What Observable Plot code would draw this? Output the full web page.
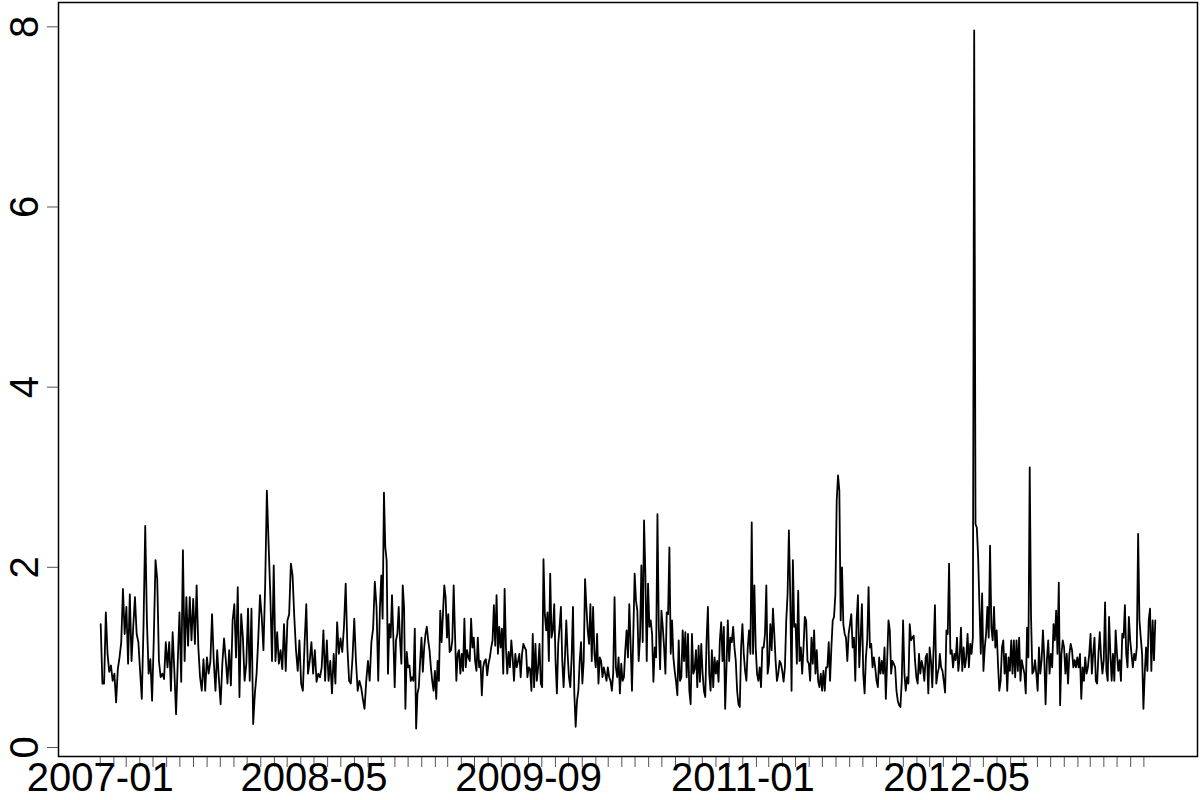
<!DOCTYPE html>
<html><head><meta charset="utf-8">
<script src="https://cdn.jsdelivr.net/npm/d3@7"></script>
<script src="https://cdn.jsdelivr.net/npm/@observablehq/plot@0.6"></script>
<style>html,body{margin:0;padding:0;background:#fff}#chart svg{display:block}</style>
</head><body><div id="chart"></div>
<script>
// Series values, in four consecutive stretches
const seg1 = [1.37,0.71,0.71,1.50,1.04,0.84,0.91,0.74,0.82,0.50,
0.87,1.00,1.17,1.76,1.26,1.56,0.93,1.70,0.96,1.34,
1.67,1.26,1.17,0.85,0.54,1.35,2.46,1.39,0.82,0.98,
0.52,1.21,2.08,1.87,0.96,0.78,0.82,0.76,1.17,0.89,
1.17,0.63,1.28,0.85,0.37,0.96,1.50,0.73,2.19,0.96,
1.67,1.13,1.67,1.19,1.65,1.15,1.80,1.11,0.78,0.63,
0.98,0.63,1.00,0.82,0.95,1.48,0.96,0.63,1.08,0.76,
0.48,0.93,1.21,0.98,0.71,1.08,0.69,1.41,1.59,1.00,
1.78,0.56,1.48,1.22,0.74,0.93,1.54,0.74,1.54,0.26,
0.60,0.82,1.22,1.69,1.45,1.08,1.80,2.85,2.26,1.70,
0.96,2.02,0.96,1.28,0.93,1.08,0.87,1.37,0.85,1.41,
1.48,2.04,1.91,1.45,1.08,0.85,1.19,0.71,0.63,1.15,
1.59,0.82,0.96,1.17,0.82,1.08,0.73,0.82,0.78,0.89,
1.30,0.74,1.19,0.74,0.96,0.60,1.04,0.71,1.39,1.04,
1.21,1.06,1.34,1.82,1.11,0.74,0.71,1.00,1.43,0.96,
0.63,0.74,0.67,0.54,0.43,0.74,0.96,0.74,1.17,1.32,
1.84,1.56,0.74,1.56];
const seg2 = [1.91,1.43,2.83,2.22,2.08,0.82,1.37,1.22,1.69,1.22,
0.67,1.19,1.26,1.56,1.19,0.93,1.80,1.56,0.43,1.06,
0.89,0.91,0.74,0.78,0.74,1.32,0.21,0.60,0.67,0.96,
1.22,0.84,1.11,1.26,1.34,1.19,1.08,0.89,0.74,0.63,
0.85,0.54,0.96,0.74,1.52,1.17,1.48,1.80,1.67,1.22,
1.48,1.06,1.08,1.19,1.80,1.26,0.74,1.04,1.08,0.82,
1.04,0.85,1.43,0.89,1.08,1.00,0.96,1.43,1.11,1.22,
0.96,0.85,1.22,0.89,0.96,0.58,0.89,0.96,0.98,0.80,
0.93,1.00,1.11,1.19,1.58,1.13,1.69,1.04,1.34,1.11,
1.32,0.82,1.76,1.11,0.82,1.06,0.89,1.19,1.00,0.74,
1.04,0.89,0.96,1.04,0.78,1.04,1.15,1.11,1.08,0.78,
0.89,0.87,0.63,1.26,0.67,1.15,0.74,0.89,1.15,0.71,
0.67,2.09,1.48,1.30,1.50,0.96,1.93,1.22,1.30,1.59,
0.96,0.60,1.15,1.34,1.56,0.96,0.67,1.00,1.41,1.04,
0.78,0.67,1.00,1.56,0.60,0.23,0.52,0.63,0.96,1.17,
0.71,0.96,1.87,1.56,1.30,1.15,1.59,0.96,1.56,1.04,
0.89,1.26,0.71,1.00,0.96,0.78,0.89,0.82,0.74,0.89,
0.78,0.74,0.63,0.82,1.67,0.89,0.78,1.00,0.60,0.93,
0.74,0.78,1.08,1.30,1.00,1.59,1.15,0.63,1.26,1.93,
1.63,1.52,0.96,1.22,2.02,1.17,2.52,1.93,0.96,1.82,
1.34,1.41,1.26,0.73,1.11,1.00,2.59,1.34];
const seg3 = [0.87,1.52,1.34,1.11,0.82,1.50,1.48,2.22,1.04,1.41,
1.00,0.85,0.73,0.58,1.19,0.74,0.78,1.30,0.96,1.28,
0.78,1.26,0.63,0.48,1.26,0.82,0.87,1.08,0.67,1.13,
0.73,1.15,0.82,0.63,0.56,1.19,1.56,0.82,0.63,1.08,
0.67,1.00,0.82,0.96,0.73,1.19,1.39,0.96,1.34,0.43,
0.89,1.41,0.96,1.22,1.17,1.34,1.11,0.96,0.63,0.48,
0.45,1.11,1.37,1.04,0.85,0.74,1.11,1.30,1.04,2.50,
1.04,1.80,1.11,0.82,0.74,0.89,0.67,1.11,1.11,1.26,
1.80,0.82,0.93,1.37,1.08,1.54,1.26,0.96,0.74,0.82,
0.96,0.93,0.85,0.73,0.89,1.41,1.70,2.41,1.70,0.63,
2.08,1.34,1.37,0.93,1.74,0.96,1.11,0.82,1.11,1.45,
1.41,0.96,0.93,0.74,1.22,0.93,1.30,0.82,1.08,0.74,
0.67,0.82,0.63,0.85,0.63,0.89,0.89,1.17,0.74,1.11,
1.41,1.45,1.70,2.74,3.02,2.85,1.41,2.00,1.37,1.26,
1.22,0.96,1.26,1.37,1.48,1.11,1.22,0.74,1.41,1.69,
0.89,1.22,1.59,0.82,0.60,1.00,1.19,1.78,1.11,1.15,
0.89,1.00,0.89,0.74,0.67,1.00,0.82,0.96,0.82,1.11,
0.54,0.96,1.41,1.30,0.82,0.96,0.93,0.89,0.63,0.52,
0.47,0.45,0.74,1.41,0.82,0.63,0.78,0.71,1.37,1.19,
1.22,1.24,0.96,0.78,0.71,1.04,0.82,0.96,0.89,0.74,
1.00,1.04,0.60,1.11,0.96,0.67,1.11,1.58,0.71,0.82,
0.89];
const seg4 = [1.04,0.89,0.85,0.74,0.61,1.30,1.26,2.04,1.04,1.08,
0.89,1.04,0.97,1.22,0.85,1.00,1.33,0.85,1.11,0.89,
1.00,1.26,0.89,1.15,1.04,1.22,7.96,2.48,2.44,2.11,
1.56,1.04,1.71,0.85,1.11,1.26,1.56,1.22,2.24,1.33,
1.19,1.56,1.11,1.30,0.93,0.63,0.74,1.11,1.19,0.82,
1.04,0.63,1.00,0.85,1.19,0.82,1.19,0.78,1.19,0.85,
1.22,0.74,0.97,0.89,0.82,0.60,1.33,1.00,3.11,1.45,
0.82,0.85,0.97,0.82,0.63,1.11,0.82,0.97,1.30,1.00,
0.48,0.97,1.19,0.82,1.04,0.89,1.37,1.19,1.52,1.04,
1.83,0.47,1.04,1.19,1.11,0.82,1.04,0.71,1.04,1.15,
1.08,0.89,0.97,0.89,1.00,0.89,1.04,0.54,0.89,0.74,
1.00,0.82,0.89,1.04,1.26,0.82,1.04,1.22,0.74,0.71,
1.04,1.28,1.00,0.82,0.97,1.61,0.85,0.74,1.45,1.04,
0.74,1.04,0.74,1.30,1.04,0.85,0.97,0.74,1.26,1.22,
1.58,1.04,0.89,1.45,1.19,1.04,0.89,1.04,0.97,1.11,
2.37,1.41,1.22,1.04,0.43,0.82,1.11,0.85,1.41,1.54,
0.85,1.41,0.97,1.41];
// Date span covered by each stretch (values evenly spaced inside it)
const segStarts = ["2007-01-02","2008-10-01","2010-06-27","2012-03-24"];
const segEnds   = ["2008-09-28","2010-06-24","2012-03-22","2013-07-27"];
// Axis ticks
const yTicks = [0, 2, 4, 6, 8];
const xTickLabels = ["2007-01", "2008-05", "2009-09", "2011-01", "2012-05"];
const xTickFirst = "2007-01-01", xTickLast = "2013-07-01";

const segs = [seg1, seg2, seg3, seg4];
const data = [];
segs.forEach((vals, k) => {
  const a = new Date(segStarts[k]).getTime(), b = new Date(segEnds[k]).getTime();
  vals.forEach((v, i) => data.push({date: new Date(a + (b - a) * i / (vals.length - 1)), value: v}));
});

const t0 = data[0].date.getTime(), t1 = data[data.length - 1].date.getTime();
const tp = (t1 - t0) * 0.04;
const [vmin, vmax] = d3.extent(data, d => d.value);
const vp = (vmax - vmin) * 0.04;

const monthTicks = d3.utcMonth.range(new Date(xTickFirst), new Date(new Date(xTickLast).getTime() + 86400000));
const labelTicks = xTickLabels.map(s => new Date(s + "-01"));

const chart = Plot.plot({
  width: 1200,
  height: 800,
  marginLeft: 58,
  marginRight: 3,
  marginTop: 2,
  marginBottom: 44,
  x: {type: "utc", domain: [new Date(t0 - tp), new Date(t1 + tp)], label: null},
  y: {domain: [vmin - vp, vmax + vp], label: null},
  style: {fontFamily: "'Liberation Sans', Arial, Helvetica, sans-serif", fontSize: "40px", color: "black", background: "white"},
  marks: [
    Plot.axisX({ticks: monthTicks, tickSize: 11, tickFormat: () => "", stroke: "#555", strokeWidth: 1, label: null}),
    Plot.axisX({ticks: labelTicks, tickSize: 0, tickPadding: 6, tickFormat: d3.utcFormat("%Y-%m"), fontSize: 40, fill: "black", label: null}),
    Plot.axisY({ticks: yTicks, tickSize: 11, tickFormat: () => "", stroke: "#555", strokeWidth: 1, label: null}),
    Plot.text(yTicks, {y: d => d, frameAnchor: "left", dx: -21, rotate: -90, lineAnchor: "bottom", textAnchor: "middle", fontSize: 40, fill: "black", text: d => String(d)}),
    Plot.line(data, {x: "date", y: "value", stroke: "black", strokeWidth: 1.8, strokeLinejoin: "round"}),
    Plot.frame({stroke: "black", strokeWidth: 1.5})
  ]
});
document.getElementById("chart").appendChild(chart);
</script>
</body></html>
